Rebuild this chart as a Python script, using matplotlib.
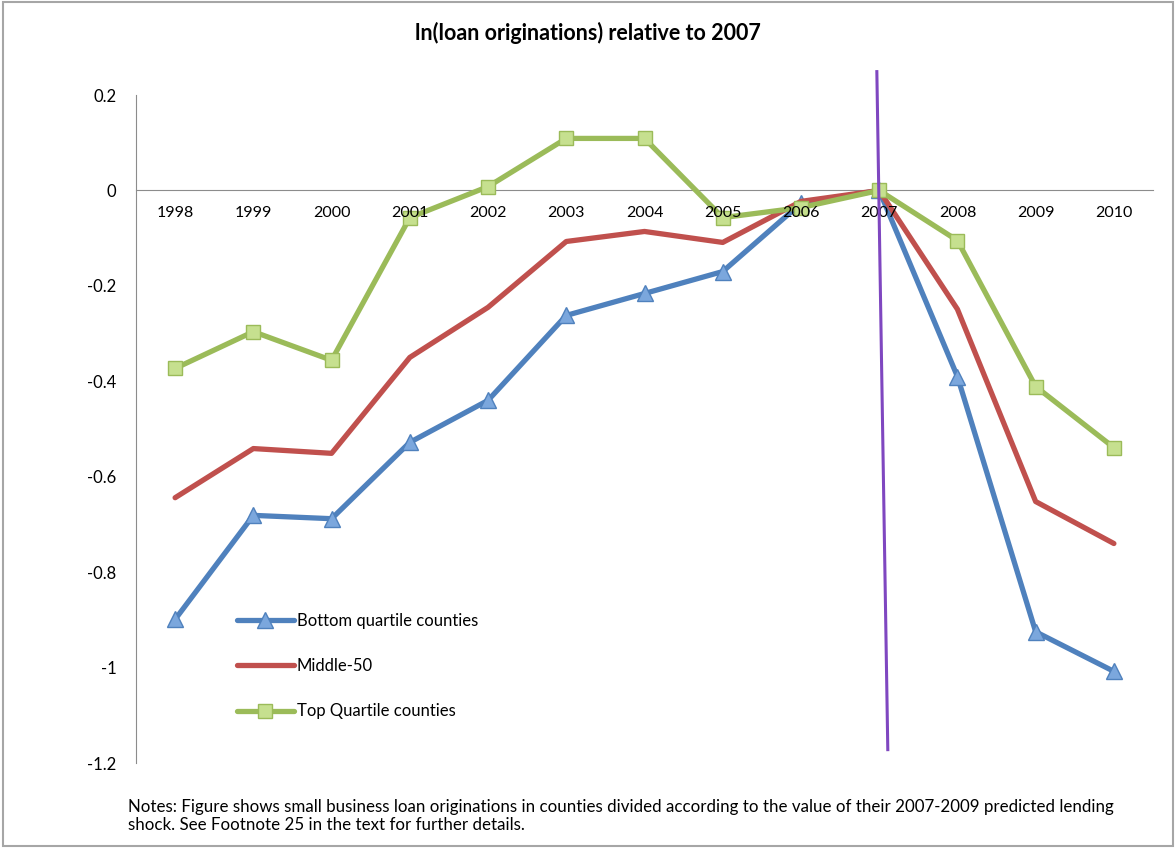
import matplotlib
matplotlib.use("Agg")
import matplotlib.pyplot as plt
from matplotlib.patches import Rectangle

plt.rcParams['font.family'] = ['Lato', 'DejaVu Sans']

years = ['1998', '1999', '2000', '2001', '2002', '2003', '2004',
         '2005', '2006', '2007', '2008', '2009', '2010']
bottom_q = [-0.899, -0.681, -0.688, -0.528, -0.440, -0.262, -0.216,
            -0.170, -0.027, 0.0, -0.390, -0.925, -1.008]
middle_50 = [-0.644, -0.541, -0.551, -0.350, -0.245, -0.107, -0.086,
             -0.109, -0.023, 0.0, -0.249, -0.652, -0.740]
top_q = [-0.373, -0.296, -0.356, -0.057, 0.008, 0.109, 0.109,
         -0.057, -0.036, 0.0, -0.105, -0.411, -0.539]
yticks = [0.2, 0, -0.2, -0.4, -0.6, -0.8, -1, -1.2]

fig = plt.figure(figsize=(11.76, 8.48), dpi=100)
ax = fig.add_axes([136 / 1176, 1 - 763 / 848, (1153 - 136) / 1176, (763 - 95) / 848])

# x axis sits on the zero line
for s in ['top', 'right']:
    ax.spines[s].set_visible(False)
ax.spines['bottom'].set_position(('data', 0))
ax.spines['bottom'].set_color('#8C8C8C')
ax.spines['left'].set_color('#8C8C8C')
ax.spines['bottom'].set_zorder(1)

x = list(range(len(years)))
ax.plot(x, bottom_q, color='#4F81BD', lw=3.8, marker='^', ms=11,
        mfc='#7BA7DD', mec='#4F81BD', mew=1, label='Bottom quartile counties',
        solid_capstyle='round', zorder=3)
ax.plot(x, middle_50, color='#C0504D', lw=3.8, label='Middle-50',
        solid_capstyle='round', zorder=3)
ax.plot(x, top_q, color='#9BBB59', lw=3.8, marker='s', ms=10,
        mfc='#C6E08F', mec='#9BBB59', mew=1, label='Top Quartile counties',
        solid_capstyle='round', zorder=3)

# vertical marker line at 2007 (slightly slanted)
ax.plot([8.97, 9.11], [0.249, -1.172], color='#7F47C0', lw=2.2,
        clip_on=False, zorder=6)

ax.set_xlim(-0.5, 12.5)
ax.set_ylim(-1.2, 0.2)
ax.set_xticks(x)
ax.set_xticklabels(years)
ax.set_yticks(yticks)
ax.set_yticklabels([f'{v:g}' for v in yticks])
ax.tick_params(axis='x', length=0, pad=11, labelsize=11.5)
ax.tick_params(axis='y', length=0, pad=14, labelsize=12)
ax.xaxis.set_zorder(5)

ax.legend(loc='upper left', bbox_to_anchor=(222 / 1176, 1 - 598 / 848),
          bbox_transform=fig.transFigure, frameon=False, fontsize=12,
          handlelength=3.4, handletextpad=0.2, labelspacing=1.75)

fig.text(0.5, 1 - 33 / 848, 'ln(loan originations) relative to 2007',
         ha='center', va='center', fontsize=15.5, fontweight='bold')
fig.text(128 / 1176, 1 - 816 / 848,
         'Notes: Figure shows small business loan originations in counties divided '
         'according to the value of their 2007-2009 predicted lending\n'
         'shock. See Footnote 25 in the text for further details.',
         ha='left', va='center', fontsize=12.2, linespacing=1.2)

fig.patches.append(Rectangle((3 / 1176, 2 / 848), 1170 / 1176, 844 / 848,
                             transform=fig.transFigure, fill=False,
                             edgecolor='#A6A6A6', lw=1.5))

fig.savefig('out.png', dpi=100)
